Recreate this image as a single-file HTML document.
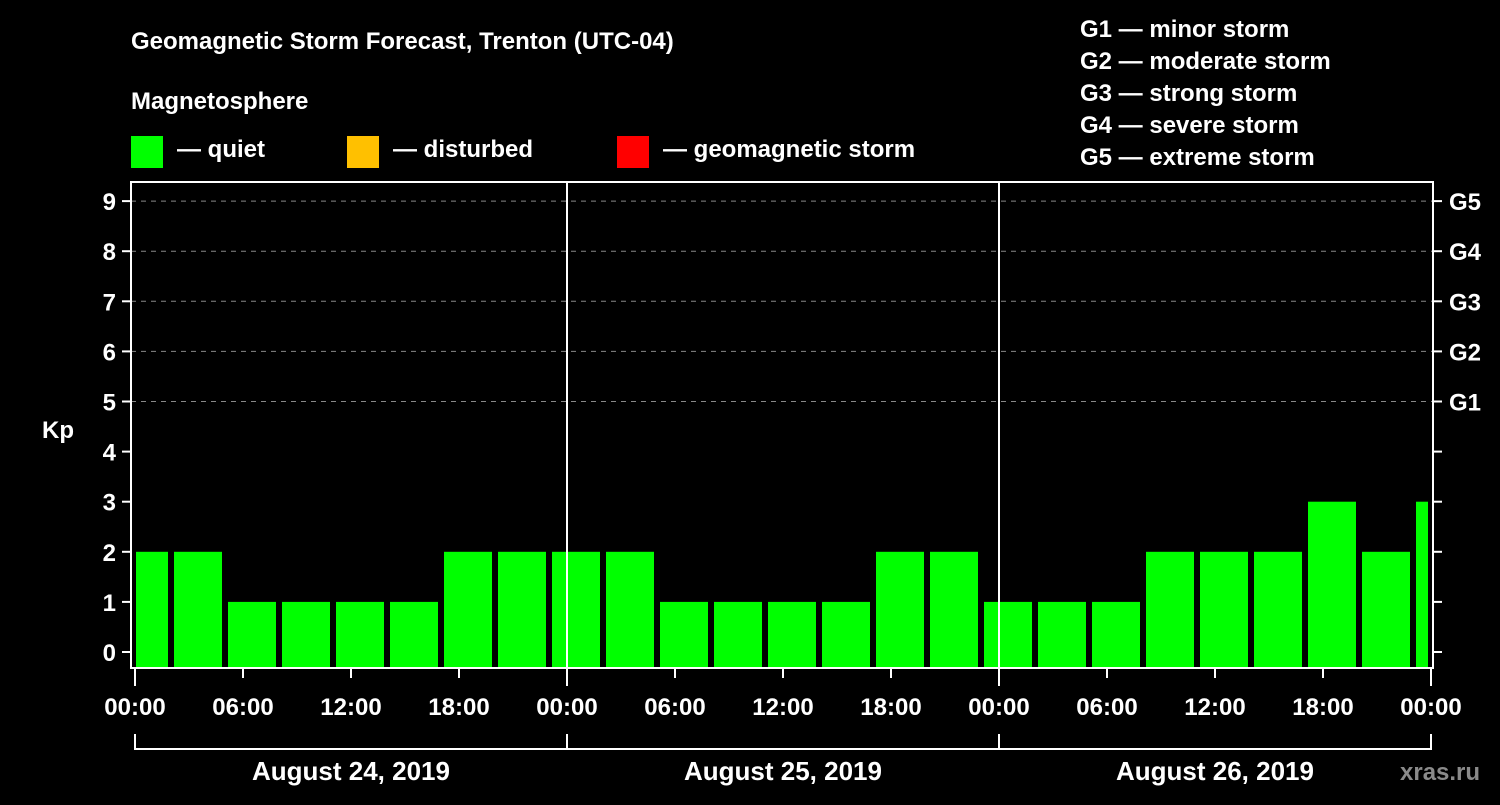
<!DOCTYPE html>
<html><head><meta charset="utf-8"><style>
body{margin:0;background:#000;width:1500px;height:800px;overflow:hidden}
svg text{font-family:"Liberation Sans",sans-serif;font-weight:bold;fill:#fff}
</style></head><body>
<svg id="c" width="1500" height="800">
<defs><clipPath id="clip"><rect x="136" y="182" width="1292" height="486"/></clipPath></defs>
<text x="131" y="49" font-size="24">Geomagnetic Storm Forecast, Trenton (UTC-04)</text>
<text x="131" y="109" font-size="24">Magnetosphere</text>
<g><rect x="131" y="136" width="32" height="32" fill="#00ff00"/><text x="177" y="157" font-size="24">— quiet</text></g>
<g><rect x="347" y="136" width="32" height="32" fill="#ffc000"/><text x="393" y="157" font-size="24">— disturbed</text></g>
<g><rect x="617" y="136" width="32" height="32" fill="#ff0000"/><text x="663" y="157" font-size="24">— geomagnetic storm</text></g>
<g font-size="24">
<text x="1080" y="37">G1 — minor storm</text>
<text x="1080" y="69">G2 — moderate storm</text>
<text x="1080" y="101">G3 — strong storm</text>
<text x="1080" y="133">G4 — severe storm</text>
<text x="1080" y="165">G5 — extreme storm</text>
</g>
<text x="42" y="438" font-size="24">Kp</text>
<text x="1400" y="780" font-size="24" fill="#888" style="fill:#8a8a8a">xras.ru</text>
<g id="grid"></g><g id="bars" clip-path="url(#clip)"></g><g id="axes"></g>
</svg>
<script>
const kpValues=[2,2,1,1,1,1,2,2,2,2,1,1,1,1,2,2,1,1,1,2,2,2,3,2,3];
const yTicks=[0,1,2,3,4,5,6,7,8,9];
const gLabels=["G1","G2","G3","G4","G5"];
const xTickLabels=["00:00","06:00","12:00","18:00","00:00","06:00","12:00","18:00","00:00","06:00","12:00","18:00","00:00"];
const dayLabels=["August 24, 2019","August 25, 2019","August 26, 2019"];
const NS="http://www.w3.org/2000/svg";
const X0=135,PXH=18,Y0=652,PXK=50.1;
const xs=h=>X0+h*PXH, ys=k=>Y0-k*PXK;
function mk(t,a,p){const e=document.createElementNS(NS,t);for(const k in a)e.setAttribute(k,a[k]);p.appendChild(e);return e;}
const grid=document.getElementById('grid'),bars=document.getElementById('bars'),axes=document.getElementById('axes');
yTicks.forEach(k=>{
 if(k>=5){const l=mk('line',{x1:131,x2:1433,y1:ys(k),y2:ys(k),stroke:'#888','stroke-dasharray':'5,5'},grid);
 
 }
 const t1=mk('line',{x1:122,x2:131,y1:ys(k),y2:ys(k),stroke:'#fff','stroke-width':2},axes);
 
 
 const t2=mk('line',{x1:1433,x2:1442,y1:ys(k),y2:ys(k),stroke:'#fff','stroke-width':2},axes);
 
 
 const tx=mk('text',{x:116,y:ys(k)+9,'font-size':24,'text-anchor':'end'},axes);tx.textContent=k;
 
 
});
gLabels.forEach((g,i)=>{const t=mk('text',{x:1449,y:ys(5+i)+9,'font-size':24},axes);t.textContent=g;
 
 });
kpValues.forEach((v,i)=>{const c=xs(0.5+3*i);
 const col=v>=5?'#ff0000':(v>=4?'#ffc000':'#00ff00');
 const r=mk('rect',{x:c-24,y:ys(v),width:48,height:667-ys(v),fill:col},bars);
 
 });
mk('rect',{x:131,y:182,width:1302,height:486,fill:'none',stroke:'#fff','stroke-width':2},axes);
[1,2].forEach(d=>{const l=mk('line',{x1:xs(24*d),x2:xs(24*d),y1:182,y2:668,stroke:'#fff','stroke-width':2},axes);
 
 });
xTickLabels.forEach((lb,i)=>{const x=xs(6*i);
 mk('line',{x1:x,x2:x,y1:668,y2:(i%4==0?686:678),stroke:'#fff','stroke-width':2},axes);
 const t=mk('text',{x:x,y:715,'font-size':24,'text-anchor':'middle'},axes);t.textContent=lb;
 
 });
mk('line',{x1:xs(0),x2:xs(72),y1:749,y2:749,stroke:'#fff','stroke-width':2},axes);
[0,1,2,3].forEach(d=>mk('line',{x1:xs(24*d),x2:xs(24*d),y1:734,y2:750,stroke:'#fff','stroke-width':2},axes));
dayLabels.forEach((lb,i)=>{const t=mk('text',{x:xs(24*i+12),y:780,'font-size':26,'text-anchor':'middle'},axes);t.textContent=lb;
 
 });
</script>
</body></html>
